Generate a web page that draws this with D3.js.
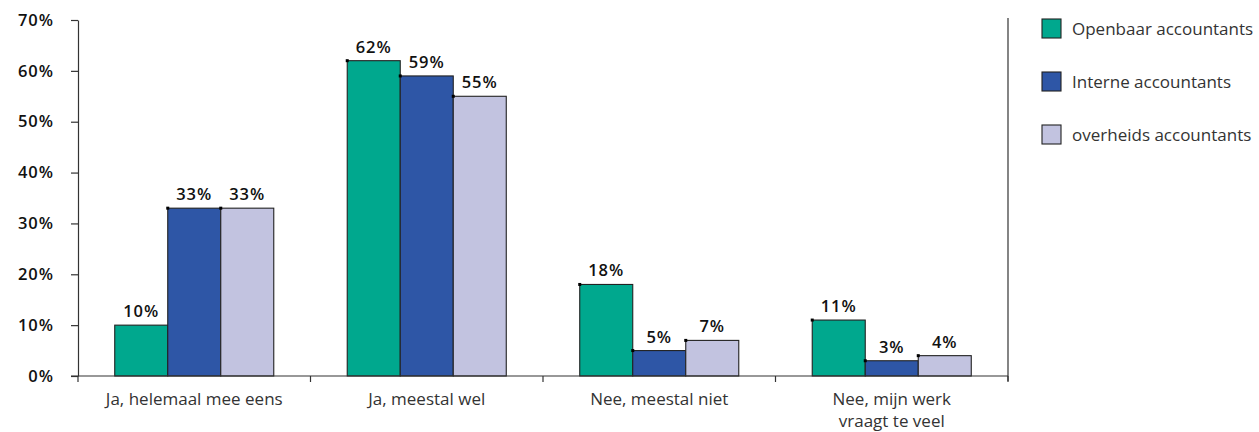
<!DOCTYPE html>
<html>
<head>
<meta charset="utf-8">
<script src="https://cdn.jsdelivr.net/npm/d3@7"></script>
<style>
  html, body { margin: 0; padding: 0; background: #fff; }
  svg { display: block; }
  text { font-family: "Open Sans", "Noto Sans", sans-serif; }
</style>
</head>
<body>
<svg id="chart" width="1259" height="432"></svg>
<script>
// Answer categories (x axis), two-line labels split on "\n"
const categories = [
  "Ja, helemaal mee eens",
  "Ja, meestal wel",
  "Nee, meestal niet",
  "Nee, mijn werk\nvraagt te veel"
];
// Respondent groups
const series = ["Openbaar accountants", "Interne accountants", "overheids accountants"];
// Percentages per group, in category order
const openbaar = [10, 62, 18, 11];
const interne = [33, 59, 5, 3];
const overheids = [33, 55, 7, 4];
const yTicks = [0, 10, 20, 30, 40, 50, 60, 70];

const values = [openbaar, interne, overheids];
const colors = ["#00a88e", "#2e56a6", "#c2c3e0"];

const svg = d3.select("#chart");
const plot = { left: 78, right: 1008, top: 20, bottom: 376 };

const y = d3.scaleLinear().domain([0, 70]).range([plot.bottom, plot.top]);
const x0 = d3.scaleBand().domain(categories).range([plot.left, plot.right]).padding(0);
const x1 = d3.scaleBand().domain(series).range([0, x0.bandwidth()])
  .paddingInner(0).paddingOuter(0.693);

// Y axis
const yAxis = svg.append("g")
  .attr("transform", `translate(${plot.left},0)`)
  .call(d3.axisLeft(y).tickValues(yTicks).tickSize(7).tickSizeOuter(0)
    .tickFormat(d => d + "%"));
yAxis.select(".domain").attr("stroke", "#333").attr("stroke-width", 1.2);
yAxis.selectAll(".tick line").attr("stroke", "#333").attr("stroke-width", 1.2);
yAxis.selectAll(".tick text")
  .attr("x", -24)
  .attr("fill", "#111")
  .style("font-size", "16.5px")
  .style("font-weight", 600)
  .style("letter-spacing", "1px")
  .style("font-family", "'Open Sans', sans-serif");

// Bars
const rows = [];
categories.forEach((c, i) => {
  series.forEach((s, j) => rows.push({ c, s, j, v: values[j][i] }));
});

const bars = svg.append("g");
bars.selectAll("rect").data(rows).join("rect")
  .attr("x", d => x0(d.c) + x1(d.s))
  .attr("y", d => y(d.v))
  .attr("width", x1.bandwidth())
  .attr("height", d => y(0) - y(d.v))
  .attr("fill", d => colors[d.j])
  .attr("stroke", "#222")
  .attr("stroke-width", 1.1);

// Small corner markers on bar tops
bars.selectAll("rect.mk").data(rows.filter((d, k) => k > 0)).join("rect")
  .attr("class", "mk")
  .attr("x", d => x0(d.c) + x1(d.s) - 1.5)
  .attr("y", d => y(d.v) - 1.5)
  .attr("width", 3).attr("height", 3)
  .attr("fill", "#000");

// Value labels
svg.append("g").selectAll("text").data(rows).join("text")
  .attr("x", d => x0(d.c) + x1(d.s) + x1.bandwidth() / 2)
  .attr("y", d => y(d.v) - 8)
  .attr("text-anchor", "middle")
  .attr("fill", "#111")
  .style("font-size", "16.5px")
  .style("font-weight", 600)
  .style("letter-spacing", "1px")
  .text(d => d.v + "%");

// X axis line and category separators
const xg = svg.append("g");
xg.append("line")
  .attr("x1", plot.left - 7).attr("x2", plot.right)
  .attr("y1", plot.bottom).attr("y2", plot.bottom)
  .attr("stroke", "#333").attr("stroke-width", 1.2);
const bounds = categories.map(c => x0(c)).concat([plot.right]);
xg.selectAll("line.sep").data(bounds).join("line")
  .attr("class", "sep")
  .attr("x1", d => d).attr("x2", d => d)
  .attr("y1", plot.bottom).attr("y2", plot.bottom + 6)
  .attr("stroke", "#333").attr("stroke-width", 1.2);

// Category labels
xg.selectAll("text").data(categories).join("text")
  .attr("x", d => x0(d) + x0.bandwidth() / 2)
  .attr("y", 405)
  .attr("text-anchor", "middle")
  .attr("fill", "#333")
  .style("font-size", "17px")
  .each(function (d) {
    const lines = d.split("\n");
    const t = d3.select(this);
    lines.forEach((ln, k) => {
      t.append("tspan")
        .attr("x", x0(d) + x0.bandwidth() / 2)
        .attr("dy", k === 0 ? 0 : 22)
        .text(ln);
    });
  });

// Legend separator
svg.append("line")
  .attr("x1", plot.right).attr("x2", plot.right)
  .attr("y1", 18).attr("y2", 381)
  .attr("stroke", "#333").attr("stroke-width", 1.2);

// Legend
const legend = svg.append("g").attr("transform", "translate(1042,19)");
const li = legend.selectAll("g").data(series).join("g")
  .attr("transform", (d, i) => `translate(0,${i * 53})`);
li.append("rect")
  .attr("width", 19).attr("height", 19)
  .attr("fill", (d, i) => colors[i])
  .attr("stroke", "#222").attr("stroke-width", 1.1);
li.append("text")
  .attr("x", 30).attr("y", 16)
  .attr("fill", "#333")
  .style("font-size", "17px")
  .text(d => d);
</script>
</body>
</html>
